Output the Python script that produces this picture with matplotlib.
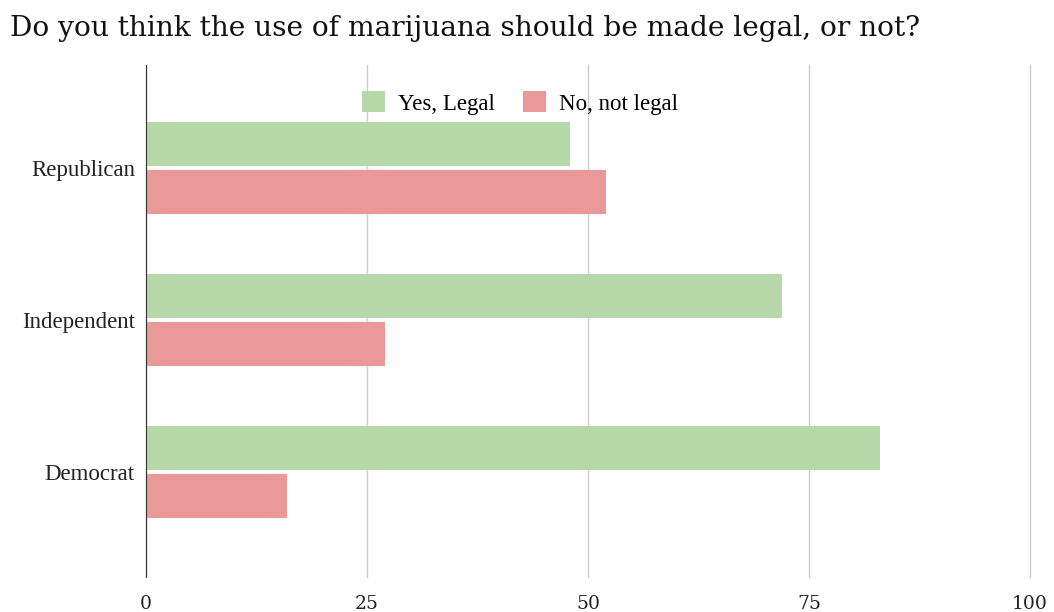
import numpy as np
import matplotlib.pyplot as plt

categories = ["Republican", "Independent", "Democrat"]
yes_legal = [48, 72, 83]
not_legal = [52, 27, 16]
x_ticks = [0, 25, 50, 75, 100]

W, H = 1054, 612
fig = plt.figure(figsize=(W / 100, H / 100), dpi=100)
ax = fig.add_axes([146 / W, 1 - 577 / H, (1030 - 146) / W, (577 - 65) / H])

pos = np.arange(len(categories))
bh = 0.29
off = 0.158
ax.barh(pos - off, yes_legal, height=bh, color="#b6d7a8", label="Yes, Legal", zorder=3)
ax.barh(pos + off, not_legal, height=bh, color="#ea9999", label="No, not legal", zorder=3)

ax.set_xlim(0, 100)
ax.set_ylim(len(categories) - 1 + 0.69, -0.68)
ax.set_xticks(x_ticks)
ax.set_xticklabels([str(t) for t in x_ticks], fontsize=13.5, family="DejaVu Serif", color="#222222")
ax.set_yticks(pos)
ax.set_yticklabels(categories, fontsize=16.5, family="Liberation Serif", color="#222222")
ax.tick_params(length=0, pad=8)
ax.tick_params(axis="x", pad=13)

ax.grid(axis="x", color="#cccccc", linewidth=1, zorder=0)
for gl in ax.get_xgridlines():
    gl.set_clip_on(False)
for s in ["top", "right", "bottom"]:
    ax.spines[s].set_visible(False)
ax.spines["left"].set_color("#333333")
ax.spines["left"].set_zorder(4)

leg = ax.legend(loc="center", bbox_to_anchor=((520 - 146) / 884, (577 - 103) / 512), ncol=2, frameon=False,
                prop={"family": "Liberation Serif", "size": 16.5}, handlelength=1.0, handleheight=1.0,
                columnspacing=1.2, handletextpad=0.6)

fig.text(10 / W, 1 - 28 / H, "Do you think the use of marijuana should be made legal, or not?",
         fontsize=20.2, family="DejaVu Serif", color="#111111", va="center", ha="left")

fig.savefig("out.png", dpi=100)
